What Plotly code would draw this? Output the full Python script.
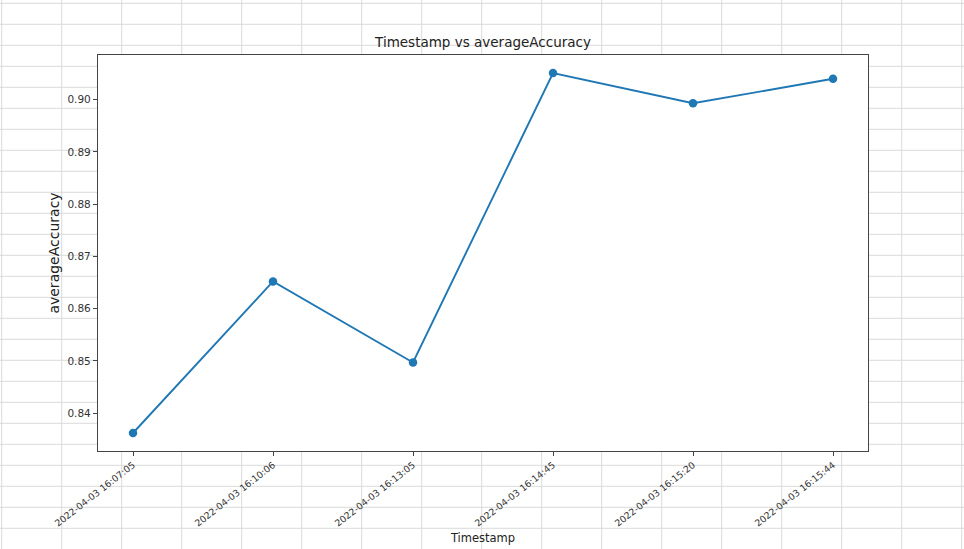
import plotly.graph_objects as go

# ---- data ----
timestamps = [
    "2022-04-03 16:07:05",
    "2022-04-03 16:10:06",
    "2022-04-03 16:13:05",
    "2022-04-03 16:14:45",
    "2022-04-03 16:15:20",
    "2022-04-03 16:15:44",
]
average_accuracy = [0.8362, 0.8652, 0.8497, 0.9051, 0.8993, 0.9040]
y_tick_values = [0.84, 0.85, 0.86, 0.87, 0.88, 0.89, 0.90]

# ---- layout constants (pixels) ----
FIG_W, FIG_H = 964, 549
M_L, M_R, M_T, M_B = 98, 96, 55, 98
PLOT_W = FIG_W - M_L - M_R
PLOT_H = FIG_H - M_T - M_B
FONT = "DejaVu Sans"

# spreadsheet-style background grid (decoration behind the chart)
GRID_COLOR = "#dadada"
grid_x0, grid_dx = 1.7, 60
grid_y0, grid_dy = 3.3, 21

shapes = []
px = grid_x0
while px < FIG_W:
    xp = (px - M_L) / PLOT_W
    shapes.append(dict(type="line", xref="paper", yref="paper",
                       x0=xp, x1=xp, y0=(FIG_H - M_T) / PLOT_H + 0.01, y1=-M_B / PLOT_H - 0.01,
                       line=dict(color=GRID_COLOR, width=1), layer="below"))
    px += grid_dx
py = grid_y0
while py < FIG_H:
    yp = (FIG_H - M_B - py) / PLOT_H
    shapes.append(dict(type="line", xref="paper", yref="paper",
                       x0=-M_L / PLOT_W - 0.01, x1=(FIG_W - M_L) / PLOT_W + 0.01, y0=yp, y1=yp,
                       line=dict(color=GRID_COLOR, width=1), layer="below"))
    py += grid_dy
# white axes face covering the grid inside the plot area
shapes.append(dict(type="rect", xref="paper", yref="paper", x0=0, x1=1, y0=0, y1=1,
                   fillcolor="white", line=dict(width=0), layer="below"))

fig = go.Figure()
fig.add_trace(go.Scatter(
    x=timestamps,
    y=average_accuracy,
    mode="lines+markers",
    line=dict(color="#1f77b4", width=1.9),
    marker=dict(color="#1f77b4", size=8.5),
    showlegend=False,
))

y_lo = min(average_accuracy)
y_hi = max(average_accuracy)
pad = (y_hi - y_lo) * 0.05

fig.update_layout(
    width=FIG_W,
    height=FIG_H,
    margin=dict(l=M_L, r=M_R, t=M_T, b=M_B, autoexpand=False),
    paper_bgcolor="white",
    plot_bgcolor="white",
    font=dict(family=FONT, color="#333333"),
    title=dict(text="Timestamp vs averageAccuracy", x=0.5, xref="paper", xanchor="center",
               y=1 - 42 / FIG_H, yref="container", yanchor="middle",
               font=dict(family=FONT, size=13.5, color="#222222")),
    shapes=shapes,
    xaxis=dict(
        type="category",
        range=[-0.25, len(timestamps) - 0.75],
        showgrid=False, zeroline=False,
        showline=True, mirror=True, linecolor="#444444", linewidth=1.2,
        ticks="outside", ticklen=4, tickcolor="#444444", tickwidth=1,
        tickangle=-38,
        tickfont=dict(family=FONT, size=9.3, color="#333333"),
        title=dict(text="Timestamp", standoff=6, font=dict(family=FONT, size=11.5, color="#222222")),
        automargin=False,
    ),
    yaxis=dict(
        range=[y_lo - pad, y_hi + pad],
        tickvals=y_tick_values,
        ticktext=[f"{v:.2f}" for v in y_tick_values],
        showgrid=False, zeroline=False,
        showline=True, mirror=True, linecolor="#444444", linewidth=1.2,
        ticks="outside", ticklen=4, tickcolor="#444444", tickwidth=1,
        tickfont=dict(family=FONT, size=10.5, color="#333333"),
        title=dict(text="averageAccuracy", standoff=4, font=dict(family=FONT, size=14, color="#222222")),
        automargin=False,
    ),
)

fig.write_html(
    "out.html",
    config={"displayModeBar": False},
    post_script="document.body.style.margin='0';document.body.style.padding='0';document.body.style.overflow='hidden';",
)
